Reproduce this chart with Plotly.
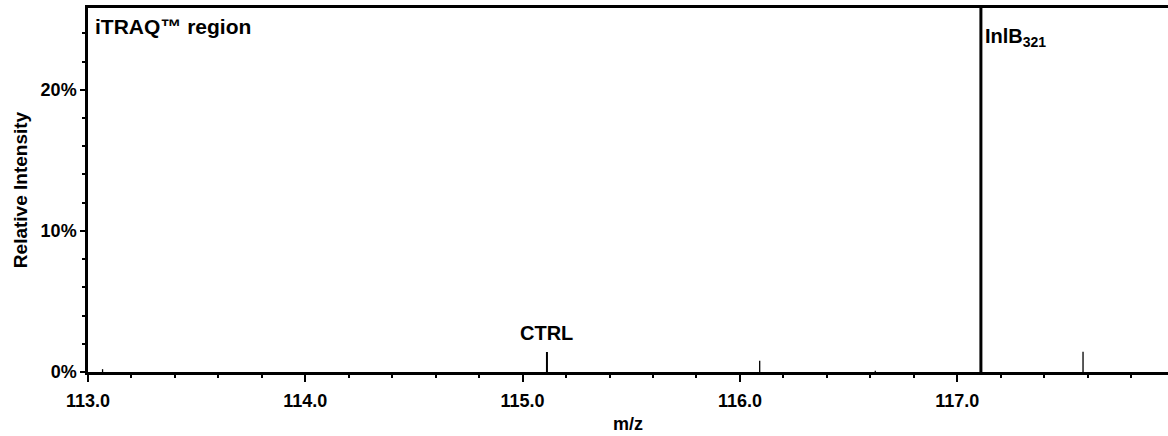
import plotly.graph_objects as go

# Reporter-ion region of the MS/MS spectrum (m/z, relative intensity in %)
mz = [113.067, 115.112, 116.091, 116.623, 117.109, 117.579]
intensity = [0.2, 1.42, 0.80, 0.08, 100.0, 1.44]

# Stick widths for each peak (labelled reporter ions drawn heavier)
stick_width = [1.3, 2, 1.3, 1.3, 3, 1.3]

x_ticks = [113.0, 114.0, 115.0, 116.0, 117.0]
y_ticks = [0, 10, 20]

FONT = "Liberation Sans, Arial, Helvetica, sans-serif"

fig = go.Figure()
for m, h, w in zip(mz, intensity, stick_width):
    fig.add_trace(go.Scatter(
        x=[m, m], y=[0, h], mode="lines",
        line=dict(color="black", width=w),
        hoverinfo="skip", showlegend=False,
    ))

fig.update_layout(
    width=1168, height=436,
    margin=dict(l=88, r=0, t=8, b=64),
    paper_bgcolor="white", plot_bgcolor="white",
    font=dict(family=FONT, color="black", size=17, weight="bold"),
    showlegend=False,
)

fig.update_xaxes(
    range=[113.0, 117.97],
    tickvals=x_ticks, ticktext=[f"{v:.1f}" for v in x_ticks],
    ticks="outside", ticklen=7, tickwidth=2, tickcolor="black",
    minor=dict(dtick=0.2, tick0=113.0, ticks="outside", ticklen=3,
               tickwidth=2, tickcolor="black"),
    showline=True, linewidth=2.5, linecolor="black", mirror=True,
    showgrid=False, zeroline=False,
    ticklabelstandoff=4,
    tickfont=dict(size=18, weight="bold"),
    title=dict(text="m/z", font=dict(size=18, weight="bold"), standoff=8),
)

fig.update_yaxes(
    range=[0, 25.8],
    tickvals=y_ticks, ticktext=[f"{v}%" for v in y_ticks],
    ticks="outside", ticklen=5, tickwidth=2, tickcolor="black",
    minor=dict(dtick=2, tick0=0, ticks="outside", ticklen=3,
               tickwidth=2, tickcolor="black"),
    showline=True, linewidth=2.5, linecolor="black",
    showgrid=False, zeroline=False,
    tickfont=dict(size=18, weight="bold"),
    title=dict(text="Relative Intensity", font=dict(size=19, weight="bold"),
               standoff=8),
)

# Region title
fig.add_annotation(
    text="iTRAQ™ region", xref="paper", yref="paper", x=0, y=1,
    xanchor="left", yanchor="top", xshift=5, yshift=-5,
    showarrow=False, font=dict(size=21, weight="bold"),
)
# Peak labels
fig.add_annotation(
    text="CTRL", x=mz[1], y=intensity[1], xref="x", yref="y",
    xanchor="center", yanchor="bottom", yshift=6,
    showarrow=False, font=dict(size=20, weight="bold"),
)
fig.add_annotation(
    text="InlB<sub>321</sub>", x=mz[4], y=1, xref="x", yref="paper",
    xanchor="left", yanchor="top", xshift=2, yshift=-15,
    showarrow=False, font=dict(size=20, weight="bold"),
)

fig.write_html("out.html")
